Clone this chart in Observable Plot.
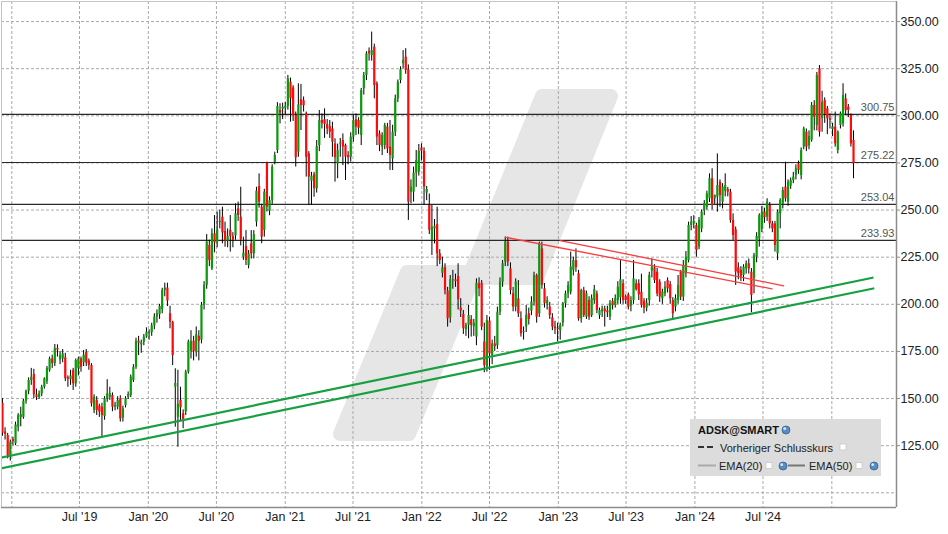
<!DOCTYPE html>
<html><head><meta charset="utf-8">
<script src="https://cdn.jsdelivr.net/npm/d3@7"></script>
<script src="https://cdn.jsdelivr.net/npm/@observablehq/plot@0.6"></script>
<style>
html,body{margin:0;padding:0;background:#fff;}
#chart{width:948px;height:534px;overflow:hidden;}
</style></head><body>
<div id="chart"></div>
<script>
// Weekly candles [open, high, low, close], first week ends Fri 7 Dec 2018
const wk2019 = [
[147.5,150,130,131.6],[132.2,134.5,128,131],[130.4,131.5,118,119.8],[119.3,128,116.8,126.8],
[128.3,129.5,125,127.2],[126,137.5,125,136],[134.8,142,132.3,141],[139.8,145.4,135,141.5],
[140,149.5,139,148.6],[148.6,154.5,147,153.9],[153.9,161,152,159.6],[159.6,166,157,161.3],
[162.8,165.5,150,152.1],[152,155,149,150.5],[150.5,154,149.5,152.5],[152.5,157,151,156],
[156,161,155,160.5],[159,167,157.5,166],[165,172,164,171],[171,173,166,168.5],
[168.5,178.7,167,176.6],[176.6,178.5,172,175.7],[170.5,175,168,172.8],[171,176,169,173.7],
[171.6,174,159,160.5],[161,162,156,160.2],[160,165,157,162],[164.9,166,154.3,157.8],
[157.8,171,156,170.2],[166,172,162,171],[171,172,164,166.6],[169,175.5,167,173],
[174.6,176,167,168.8],[170,171,165,167.5],[167.5,168.5,145.5,147.2],[143.7,152,142,150.7],
[149,151,141,143.7],[146,147,140,142.8],[145.4,147.5,129,141],[140.5,151,138.5,149.9],
[149.9,160,148,152.5],[150.7,156,149,152.5],[151.6,153,143,145.4],[145.4,148,143.5,146.3],
[145.4,151,144,149],[149.9,151.5,137.5,139.2],[139.6,146,137.5,144.5],[146.3,151,145,149.9],
[150.7,153.5,149.5,152.1],[151.6,162.5,150.5,161.3],[159.6,168,158.5,166.6],[166.6,182,165.5,180.4],
[180.4,183,172.8,179.4],[178.5,181,174,179.5],[179.9,184,178,182.6],[182.6,187.5,182,185.2]
];
const wk2020 = [
[184.4,186.5,181,185.2],[185,190,183,188.5],[188.5,195,186.5,193.2],[193.2,197,190,195],
[194.5,200,192,198.8],[197.1,208.5,195,207.3],[207.3,211.2,204,208.6],[208.6,211.2,198.8,201.7],
[195,199,187,190.5],[190.5,191,167.5,172.8],[156,165.8,134.8,158],[140,165,124.2,147],
[149,156,138,145],[142,144,134,139],[143,165,141,164],[164,181,163,180],
[175,186,171,180.4],[180.4,183,170,174.8],[174.6,188,172,183.9],[183,186,170,180.3],
[181,201,179,199.5],[199.5,212,197,210],[210,237,208,233],[231.2,234,220,223.2],
[218.8,240,217.9,237.4],[237.4,247.1,227.3,232.6],[233,248.9,230,239.5],[243.4,250,240,244],
[246.2,251.5,232.1,237.9],[238.6,243.6,230.3,233.5],[233.5,240,230,236],[239.2,247.1,227.7,236],
[236,238,230,233.9],[236.3,253.3,234,248],[250.6,254.2,244,247.1],[246.2,262.1,231,234.2],
[225,235.6,223.3,227.1],[230.7,239.1,220.6,223.3],[220.6,228.5,218.8,226.8],[232.1,239.1,224,226.8],
[226.8,239.1,224.1,237],[243.6,262.1,241,260],[262.5,269.2,251,254.2],[251.5,253,232.1,235.6],
[239.2,261,235.6,259.5],[274.9,275.4,249,251.5],[249.4,257,247,255],[255,274,253,272.8],
[275.4,280.7,274,279],[281.6,307,280,304.9],[302.8,306.4,295.7,301.4],[303.5,306.7,298,304.5]
];
const wk2021 = [
[304,307,300,305],[305,321.4,303,319.6],[317.8,320,296.6,309],[314.8,316,297,300.2],
[300.2,302,272.8,277.7],[280.7,317,278,305.8],[308.5,316.6,292.2,305.5],[308,310,302,305.3],
[301,302,267.5,278],[279.8,281,252.4,267.5],[265.3,270,252.4,268],[268.9,270,256.8,261.3],
[261.3,286.9,259,283.7],[284.2,302.8,281,297.5],[297.5,301,293,296],[297.9,303.7,288,295.4],
[295.4,298,290,293],[294.3,297.5,288,291.3],[293,296.6,278,286],[285.1,287.8,264.8,277.7],
[274.5,285,266.6,281.6],[285,288,278,285.6],[286.9,290.4,273.6,283.4],[284.2,285,265.7,278.1],
[279,281,274,277.7],[278,291,275.4,288.7],[288.7,300.2,286,297.5],[297.9,301,289.6,294],
[297.5,299,290,293.4],[289.6,314.5,284.2,313.4],[314.3,323,311,321.4],[321.4,334,318.7,332.9],
[334.3,336,329,332.9],[332,344.4,329,334.6],[336.4,338,309,316.1],[317,318,284.2,288.7],
[290.4,292,281,284.2],[283.4,291,278.9,289.6],[284.2,296,282,294.9],[294,296,280,282.5],
[283.4,297.5,271,279],[277.2,295,271,291.3],[291.3,311,289,309],[309,319,307,317.8],
[318.7,326,317,324.4],[327.6,334.6,325,329.3],[331.1,335.6,322,324],[324.4,327,244.5,254.2],
[259.5,266,253.3,262.2],[259.5,272.8,254.2,269.6],[269.6,281.6,262,276.3],[270.1,284.8,268,281.2]
];
const wk2022 = [
[282.9,285.1,276,281.2],[281.2,283,252.4,262.2],[259,262.5,255,260.9],[252.4,258.5,237,239.2],
[233.8,252.4,225.9,240.9],[240,245,232,241.4],[242.3,251.5,220,226.8],[226.8,229,221,223.2],
[216.5,225,214,219.3],[219.4,221.5,205,207.3],[207,209,187.9,192.3],[192.8,215.3,190,213],
[212.6,218,208,213],[213,216,209,212],[214.7,221.5,197,202.4],[198,203,193,196.4],
[194.6,196.7,184,187],[186.5,190,183,188.8],[188.8,199.4,181.7,194.1],[191.8,194,182.6,188.8],
[188,192,183,190],[182.6,213.5,178,211.2],[210.9,214,204,208.2],[211.2,212.6,186,187.9],
[180,190,163.7,167.5],[166.7,194,164,191.4],[191.1,193,165,173.7],[172.8,181,168,179],
[179,183,175,177.5],[178,198.5,176,195.8],[195.8,214,194,211.7],[211.7,223.2,209,221.5],
[222.4,235.6,220,233],[233,235.6,220,222.4],[218.8,222,205,207.3],[205.6,209,196,198.5],
[198.5,213.5,196,211.7],[202.9,212.6,193,194.9],[192.3,196,182.6,184.3],[185,188,181,185.5],
[187.9,199.4,185,194.1],[195,198,189,192],[196.4,204,194,201.1],[201.1,217,199,215.3],
[215.3,216,190,193.2],[194.9,233,193,231.7],[229.4,233,208,210],[208.2,211,198,200.3],
[200.3,204,197,202],[198.5,201,192,194.1],[192.8,195,186,187.9],[188,191,184,187]
];
const wk2023 = [
[187,190,180,186.5],[186,190,181,189],[190,201,188,200.3],[200.3,207,198,205.6],
[205.6,212,203,209.9],[206.5,227.7,205,219.7],[218,225,215,223.2],[223.2,229.4,217,219.4],
[216.2,218,191,192.3],[192.3,208,190,207.3],[207.3,209,193,194.1],[193.2,207,192,205.6],
[202,204,191.5,193.2],[194,205,193,203],[202,210,200,207.7],[205.5,207,195,196.7],
[194,198,192,196.7],[196,199,193,197.5],[197.5,199,187.9,196],[196.5,199,193,195.5],
[193.2,202,191.4,200.6],[201.5,203,197,199.4],[199.4,205,198,203],[202,212,200,209.1],
[203.5,223.2,200,213],[210.9,213,200,202],[204,205,200,202],[205,206,197,198.5],
[199,204,196,202],[202,223.2,200,213.5],[210.9,213,207,207.7],[210.9,213,202,205],
[206.4,216,198,199.4],[201.7,203,195,198],[198,203,196,200.6],[202,217,199,215.3],
[217.6,224.1,214,219.7],[219.4,221,211,212.6],[217,219,204,205.5],[211.7,213,201,203.8],
[202.9,208,200,206.4],[205.5,212,204,209.1],[212.6,214,206,208.2],[210.5,212,200,202.9],
[202,203.5,191.4,195],[198.5,205,196,203],[202,215.3,200,210],[217,218,202,203.8],
[203.8,223.2,201.5,220.6],[216.2,228,214,225],[223.2,243.6,222,241.8],[241.8,246.6,239,243.6]
];
const wk2024 = [
[243,247,240,244],[241.8,243,225,228.5],[230.3,246,229,244.5],[240,250,238,248.9],
[249.8,255,247,253.3],[251.5,260,250,258.6],[256,269.2,254,266.6],[266.6,271.9,250,252.4],
[256,258,253,257.7],[256.9,279.8,248.9,263],[264.8,266,251.5,257.7],[254.2,264,250.6,262.2],
[260,269.2,257,263],[260.9,262,257,259.5],[259.5,261,243,244.5],[244.5,248,233.9,236.5],
[239.5,241,210,217.1],[219.4,222,213,216.2],[218,220,212,214.4],[215.3,221,212,219.7],
[218.8,223,216,221.5],[221.5,224,216,218.8],[217,219,195.5,204.7],[213.5,227,205.6,225.9],
[225,238,222,236],[234.7,248,230.3,247.1],[240,252,238,248.9],[249,251,243,246],
[246.2,256,244,254.2],[252.4,254,240,242.7],[242.7,244,238,240],[242.7,244,227.7,231.2],
[226.8,250,223.2,248.9],[248,256,240,255.1],[253.3,262,250.6,260.4],[262.2,275.4,254.2,256],
[254.2,266,252,264.8],[262.7,267,261,265.7],[265.7,270,264,267.5],[268.3,274,266,271.9],
[274.5,276,269,271],[268.3,283,266,281.6],[283.4,294,282,293.1],[291.3,293,281,283.4],
[284,292,282,289],[287,307,286,305.5],[305.5,308,292,299.3],[294.9,323,292,321.4],
[324.9,326.7,288.7,291.3],[298.4,313,291.3,307.2],[308.1,309.5,296,301],[303.7,305,290,298.4],
[298.4,301,293,297.5]
];
const wk2025 = [
[292.7,296,289,294],[294,302,283.4,285.1],[281.6,292,279.8,291.3],[294.9,302,293,301],
[295.7,317,294,310.8],[309,311.6,300,302.8],[304.6,306,299,302.8],[300.2,301,283.4,285.1],
[286.9,292,266.6,274.5]
];

// Horizontal resistance levels
const levels = [300.75, 275.22, 253.04, 233.93];
// Trend lines (two green support lines, two red resistance lines)
const greenUpper = [["2018-12-02", 118.6], ["2025-04-20", 214.1]];
const greenLower = [["2018-12-02", 112.9], ["2025-04-22", 208.4]];
const redA = [["2022-08-12", 235.6], ["2024-07-25", 208.2]];
const redB = [["2023-01-06", 233.8], ["2024-08-25", 209.8]];
// Axis ticks
const yLabels = [125, 150, 175, 200, 225, 250, 275, 300, 325, 350];
const yGrid = [100, 125, 150, 175, 200, 225, 250, 275, 300, 325, 350];
const xGrid = ["2019-01-01","2019-07-01","2020-01-01","2020-07-01","2021-01-01","2021-07-01",
  "2022-01-01","2022-07-01","2023-01-01","2023-07-01","2024-01-01","2024-07-01","2025-01-01"];
const xLabels = ["2019-07-01","2020-01-01","2020-07-01","2021-01-01","2021-07-01",
  "2022-01-01","2022-07-01","2023-01-01","2023-07-01","2024-01-01","2024-07-01"];

const DAY = 864e5;
const start = Date.UTC(2018, 11, 7);
const rows = [...wk2019, ...wk2020, ...wk2021, ...wk2022, ...wk2023, ...wk2024, ...wk2025];
const candles = rows.map((r, i) => ({date: new Date(start + i * 7 * DAY), open: r[0], high: r[1], low: r[2], close: r[3]}));
const pt = a => a.map(([d, v]) => ({date: new Date(d + "T00:00Z"), v}));

const jan19 = Date.UTC(2019, 0, 1), pxDay = 0.3741, x0 = 11.3;
const xDomain = [new Date(jan19 + (1 - x0) / pxDay * DAY), new Date(jan19 + (896 - x0) / pxDay * DAY)];
const yDomain = [92.2, 360.64];
const fmtX = d => (d.getUTCMonth() === 0 ? "Jan '" : "Jul '") + String(d.getUTCFullYear()).slice(2);

const green = "#0c9a0c", red = "#ff0a0a";
const font = "'Liberation Sans', Arial, sans-serif";

const chart = Plot.plot({
  width: 948, height: 534,
  marginLeft: 1, marginTop: 1, marginRight: 52, marginBottom: 27,
  style: {fontFamily: font, fontSize: "12.5px", color: "#222", background: "transparent"},
  x: {type: "utc", domain: xDomain},
  y: {domain: yDomain},
  marks: [
    Plot.ruleY(yGrid, {stroke: "#a9a9a9", strokeDasharray: "3,2"}),
    Plot.ruleX(xGrid.map(d => new Date(d + "T00:00Z")), {stroke: "#a9a9a9", strokeDasharray: "3,2"}),
    Plot.ruleY(levels, {stroke: "#2a2a2a", strokeWidth: 1.2}),
    Plot.text(levels, {y: d => d, frameAnchor: "right", textAnchor: "end", dx: -2, dy: -7,
      text: d => d.toFixed(2), fill: "#555", fontSize: 11}),
    Plot.ruleX(candles, {x: "date", y1: "low", y2: "high", stroke: "#000", strokeWidth: 1}),
    Plot.ruleX(candles, {x: "date", y1: "open", y2: "close", strokeWidth: 2.2,
      stroke: d => d.close >= d.open ? green : red}),
    Plot.line(pt(greenUpper), {x: "date", y: "v", stroke: "#17a040", strokeWidth: 2.2, clip: true}),
    Plot.line(pt(greenLower), {x: "date", y: "v", stroke: "#17a040", strokeWidth: 2.2, clip: true}),
    Plot.line(pt(redA), {x: "date", y: "v", stroke: "#ff3a3a", strokeWidth: 1.3}),
    Plot.line(pt(redB), {x: "date", y: "v", stroke: "#ff3a3a", strokeWidth: 1.3}),
    Plot.ruleY([yDomain[1]], {stroke: "#c4c4c4", strokeWidth: 1}),
    Plot.ruleX([xDomain[0]], {stroke: "#c4c4c4", strokeWidth: 1}),
    Plot.ruleY([yDomain[0]], {stroke: "#8c8c8c", strokeWidth: 1.5}),
    Plot.ruleX([xDomain[1]], {stroke: "#8c8c8c", strokeWidth: 1.5}),
    Plot.axisY({anchor: "right", ticks: yLabels, tickFormat: d => d.toFixed(2), tickSize: 3,
      tickPadding: 1, label: null, stroke: "#8c8c8c", fontSize: 12.5}),
    Plot.axisX({ticks: xLabels.map(d => new Date(d + "T00:00Z")), tickFormat: fmtX, tickSize: 0,
      tickPadding: 5, label: null, fontSize: 12.5})
  ]
});
document.getElementById("chart").appendChild(chart);

// Watermark logo (decoration) behind everything
const svg = d3.select(chart);
const wm = svg.insert("g", ":first-child")
  .attr("fill", "#e6e6e6").attr("stroke", "#e6e6e6").attr("stroke-width", 14).attr("stroke-linejoin", "round");
wm.append("polygon").attr("points", "542,96 611,96 537,278 468,278");
wm.append("polygon").attr("points", "407,272 476,272 409,434 340,434");

// In-chart legend box (decoration)
const lg = svg.append("g").attr("text-anchor", "start")
  .style("font-family", font).style("font-size", "11px");
lg.append("rect").attr("x", 690).attr("y", 419).attr("width", 191).attr("height", 57).attr("fill", "#dcdcdc");
lg.append("text").attr("x", 698).attr("y", 434).attr("font-weight", "bold").attr("fill", "#111").text("ADSK@SMART");
const globe = (cx, cy) => {
  lg.append("circle").attr("cx", cx).attr("cy", cy).attr("r", 4).attr("fill", "#5a8cc4").attr("stroke", "#2f5f94").attr("stroke-width", 0.8);
  lg.append("circle").attr("cx", cx - 1.3).attr("cy", cy - 1.3).attr("r", 1.4).attr("fill", "#dbe8f5");
};
const box = (x, y) => lg.append("rect").attr("x", x).attr("y", y).attr("width", 6).attr("height", 6)
  .attr("fill", "#fff").attr("stroke", "#c8c8c8").attr("stroke-width", 0.8);
globe(786, 430);
lg.append("line").attr("x1", 698).attr("x2", 716).attr("y1", 447).attr("y2", 447)
  .attr("stroke", "#333").attr("stroke-width", 2).attr("stroke-dasharray", "6,3");
lg.append("text").attr("x", 720).attr("y", 451.5).attr("fill", "#222").text("Vorheriger Schlusskurs");
box(840, 444);
lg.append("line").attr("x1", 698).attr("x2", 716).attr("y1", 465.5).attr("y2", 465.5)
  .attr("stroke", "#aaa").attr("stroke-width", 2);
lg.append("text").attr("x", 719).attr("y", 470).attr("fill", "#222").text("EMA(20)");
box(766, 462.5);
globe(783, 466);
lg.append("line").attr("x1", 788).attr("x2", 805).attr("y1", 465.5).attr("y2", 465.5)
  .attr("stroke", "#777").attr("stroke-width", 2);
lg.append("text").attr("x", 809).attr("y", 470).attr("fill", "#222").text("EMA(50)");
box(856, 462.5);
globe(874, 466);
</script>
</body></html>
